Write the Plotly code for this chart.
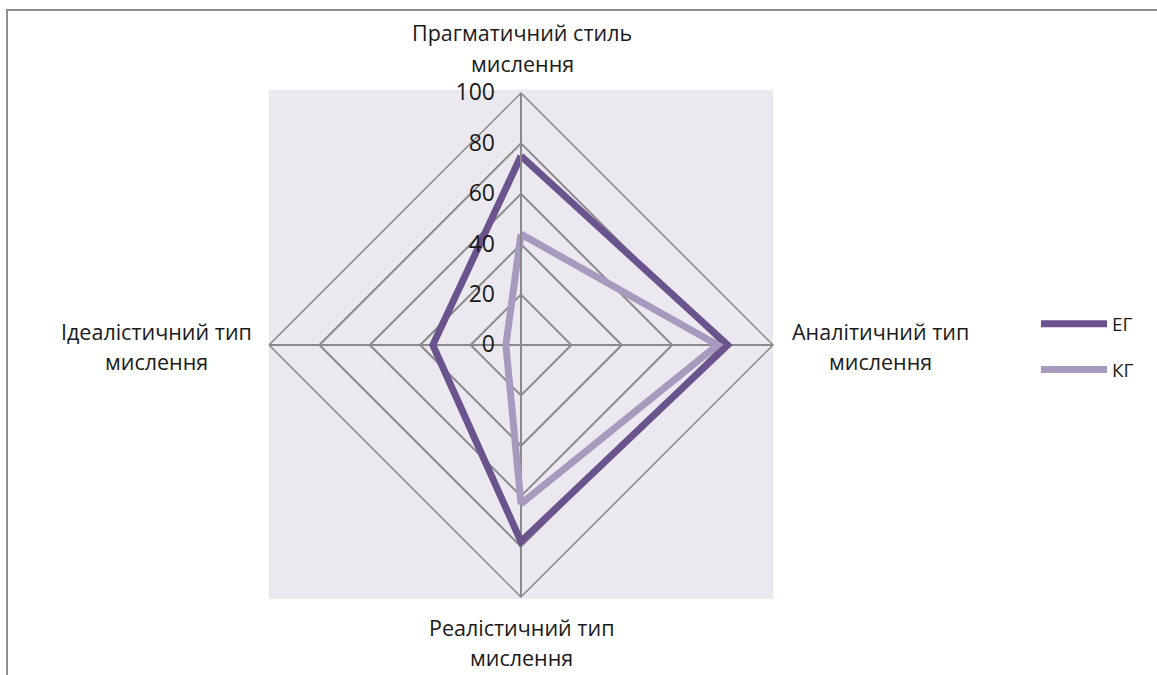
import plotly.graph_objects as go

categories = ["Прагматичний стиль<br>мислення", "Аналітичний тип<br>мислення",
              "Реалістичний тип<br>мислення", "Ідеалістичний тип<br>мислення"]
eg_values = [75, 82, 78, 35]
kg_values = [44, 78, 63, 6]
series_names = ["ЕГ", "КГ"]
series_colors = ["#6B548E", "#A899BF"]
radial_ticks = [0, 20, 40, 60, 80, 100]

W, H = 1157, 675
bg = "#EBE9EF"
grid = "#8A8A8A"
FONT = "Open Sans, sans-serif"

fig = go.Figure()
for name, vals, col in zip(series_names, [eg_values, kg_values], series_colors):
    fig.add_trace(go.Scatterpolar(
        r=vals + vals[:1], theta=categories + categories[:1],
        mode="lines", name=name, legendgroup=name,
        line=dict(color=col, width=7),
    ))

# category labels placed around the chart (two lines each, centred)
label_pos = [  # (x centre px, y centre px of line 1, y centre px of line 2)
    (522, 32, 64),
    (880, 331, 361),
    (521, 627, 657),
    (156, 331, 361),
]
annotations = []
for cat, (cx, y1, y2) in zip(categories, label_pos):
    lines = cat.split("<br>")
    for txt, yy in zip(lines, (y1, y2)):
        annotations.append(dict(
            text=txt, x=cx / W, y=1 - yy / H, xref="paper", yref="paper",
            xanchor="center", yanchor="middle", showarrow=False,
            font=dict(family=FONT, size=21.5, color="#1a1a1a"),
        ))

fig.update_layout(
    width=W, height=H,
    margin=dict(l=0, r=0, t=0, b=0),
    paper_bgcolor="white",
    font=dict(family=FONT, color="#1a1a1a"),
    showlegend=True,
    legend=dict(x=1036 / W, y=1 - 305 / H, xanchor="left", yanchor="top",
                font=dict(size=19, color="#1a1a1a"), tracegroupgap=18,
                itemwidth=66, bgcolor="rgba(0,0,0,0)"),
    annotations=annotations,
    polar=dict(
        domain=dict(x=[269 / W, 773 / W], y=[(H - 597) / H, (H - 93) / H]),
        bgcolor=bg,
        gridshape="linear",
        angularaxis=dict(
            type="category", rotation=90, direction="clockwise",
            categoryarray=categories, showticklabels=False,
            showline=True, linecolor=grid, linewidth=1.5,
            gridcolor=grid, gridwidth=1.5, ticks="",
        ),
        radialaxis=dict(
            range=[0, 100], tickvals=radial_ticks, angle=90, tickangle=90,
            side="counterclockwise",
            showline=True, linecolor=grid, linewidth=2,
            gridcolor=grid, gridwidth=1.5,
            ticks="outside", ticklen=17, tickcolor="rgba(0,0,0,0)",
            tickfont=dict(size=23, color="#1a1a1a"),
        ),
    ),
    shapes=[
        dict(type="rect", xref="paper", yref="paper", layer="below",
             x0=269 / W, x1=773 / W, y0=(H - 599) / H, y1=(H - 90) / H,
             fillcolor=bg, line=dict(width=0)),
        dict(type="rect", xref="paper", yref="paper", layer="above",
             x0=7 / W, x1=1.05, y0=-0.05, y1=(H - 10) / H,
             fillcolor="rgba(0,0,0,0)", line=dict(color="#8F8F8F", width=2)),
    ],
)

fig.write_html("out.html")
